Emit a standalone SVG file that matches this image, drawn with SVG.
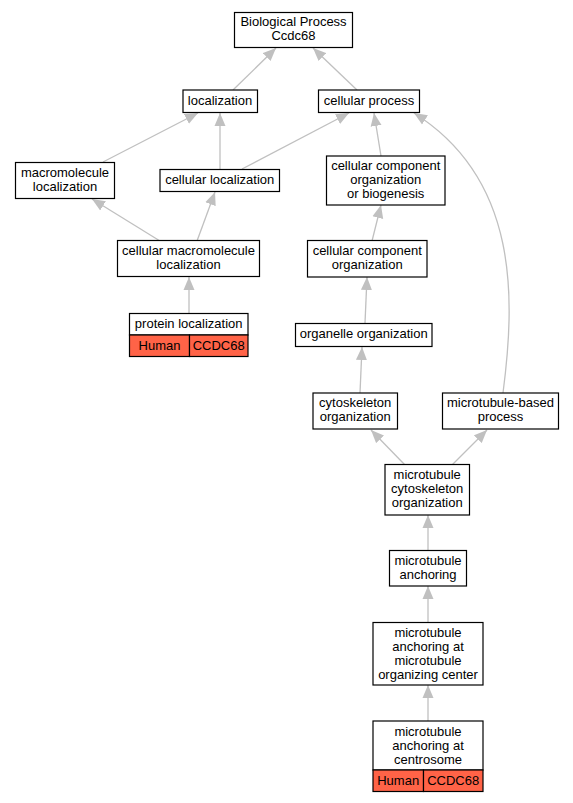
<svg xmlns="http://www.w3.org/2000/svg" width="573" height="803" viewBox="0 0 573 803">
<style>
.box{fill:#fff;stroke:#000;stroke-width:1.2}
.red{fill:#ff6347;stroke:#000;stroke-width:1.2}
text{font-family:"Liberation Sans",Arial,sans-serif;font-size:13px;text-anchor:middle;fill:#000}
.e{stroke:#c0c0c0;stroke-width:1.3;fill:none;marker-end:url(#ah)}
</style>
<defs>
<marker id="ah" markerUnits="userSpaceOnUse" markerWidth="14" markerHeight="12" refX="13" refY="5.5" orient="auto" viewBox="0 0 14 11">
<path d="M0,0 L13,5.5 L0,11 Z" fill="#c0c0c0"/>
</marker>
</defs>
<rect width="573" height="803" fill="#fff"/>
<g id="edges">
<line class="e" x1="233" y1="90" x2="276" y2="48"/>
<line class="e" x1="357" y1="90" x2="313" y2="48"/>
<line class="e" x1="103" y1="162" x2="198" y2="113"/>
<line class="e" x1="220" y1="169" x2="220" y2="113"/>
<line class="e" x1="242" y1="169" x2="349" y2="113"/>
<line class="e" x1="381" y1="156" x2="374" y2="113"/>
<path class="e" d="M503,393 C515,300 520,180 414,113"/>
<line class="e" x1="160" y1="241" x2="92" y2="199"/>
<line class="e" x1="197" y1="241" x2="215" y2="192"/>
<line class="e" x1="372" y1="241" x2="381" y2="205"/>
<line class="e" x1="189" y1="313" x2="189" y2="277"/>
<line class="e" x1="365" y1="323" x2="367" y2="277"/>
<line class="e" x1="360" y1="393" x2="362" y2="347"/>
<line class="e" x1="405" y1="465" x2="371" y2="430"/>
<line class="e" x1="452" y1="465" x2="487" y2="430"/>
<line class="e" x1="428" y1="550" x2="428" y2="515"/>
<line class="e" x1="428" y1="622" x2="428" y2="586"/>
<line class="e" x1="428" y1="721" x2="428" y2="685"/>
</g>
<g id="bp"><rect class="box" x="234.5" y="12.5" width="118" height="35"/><text x="293.5" y="26">Biological Process</text><text x="293.5" y="40">Ccdc68</text></g>
<g id="localization"><rect class="box" x="183" y="90" width="74.5" height="22.5"/><text x="220" y="105">localization</text></g>
<g id="cellular_process"><rect class="box" x="318.5" y="90" width="101" height="22.5"/><text x="369" y="105">cellular process</text></g>
<g id="macromolecule_localization"><rect class="box" x="15.5" y="162.5" width="99" height="36"/><text x="65" y="177">macromolecule</text><text x="65" y="191">localization</text></g>
<g id="cellular_localization"><rect class="box" x="160" y="169.5" width="119.5" height="22"/><text x="219.7" y="183.5">cellular localization</text></g>
<g id="ccob"><rect class="box" x="326.5" y="156" width="118.5" height="49"/><text x="385.7" y="170">cellular component</text><text x="385.7" y="184">organization</text><text x="385.7" y="198">or biogenesis</text></g>
<g id="cml"><rect class="box" x="117.5" y="240.5" width="142" height="36"/><text x="188.5" y="255">cellular macromolecule</text><text x="188.5" y="269">localization</text></g>
<g id="cco"><rect class="box" x="307.5" y="240.5" width="119.5" height="36.5"/><text x="367.2" y="255">cellular component</text><text x="367.2" y="269">organization</text></g>
<g id="protein_localization"><rect class="box" x="129.5" y="313.5" width="118.5" height="21.5"/><text x="188.7" y="327.5">protein localization</text><rect class="red" x="129.5" y="335" width="60" height="21.5"/><rect class="red" x="189.5" y="335" width="58.5" height="21.5"/><text x="159.5" y="349.5">Human</text><text x="218.7" y="349.5">CCDC68</text></g>
<g id="organelle_organization"><rect class="box" x="295.5" y="323.5" width="136.5" height="23"/><text x="363.7" y="338">organelle organization</text></g>
<g id="cytoskeleton_organization"><rect class="box" x="313" y="393" width="84.5" height="36"/><text x="355.2" y="407">cytoskeleton</text><text x="355.2" y="421">organization</text></g>
<g id="mbp"><rect class="box" x="442.5" y="393" width="116" height="36"/><text x="500.5" y="407">microtubule-based</text><text x="500.5" y="421">process</text></g>
<g id="mco"><rect class="box" x="385" y="464.5" width="84.5" height="50.5"/><text x="427.2" y="479">microtubule</text><text x="427.2" y="493">cytoskeleton</text><text x="427.2" y="507">organization</text></g>
<g id="ma"><rect class="box" x="389.5" y="550.5" width="77" height="35.5"/><text x="428" y="565">microtubule</text><text x="428" y="579">anchoring</text></g>
<g id="mtoc"><rect class="box" x="373" y="622.5" width="110" height="62.5"/><text x="428" y="637">microtubule</text><text x="428" y="651">anchoring at</text><text x="428" y="665">microtubule</text><text x="428" y="679">organizing center</text></g>
<g id="centrosome"><rect class="box" x="373" y="721" width="110" height="49"/><text x="428" y="736">microtubule</text><text x="428" y="750">anchoring at</text><text x="428" y="764">centrosome</text><rect class="red" x="373" y="770" width="50.5" height="21.5"/><rect class="red" x="423.5" y="770" width="59.5" height="21.5"/><text x="398.2" y="784.5">Human</text><text x="453.2" y="784.5">CCDC68</text></g>
</svg>
